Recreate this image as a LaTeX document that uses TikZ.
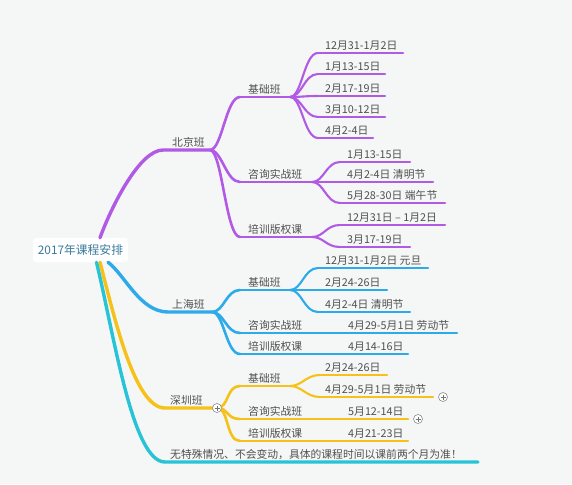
\documentclass[tikz,border=0pt]{standalone}
\usepackage{fontspec}
\setmainfont{Noto Sans CJK SC}
\definecolor{bg}{HTML}{F5F6F6}
\definecolor{txt}{HTML}{505050}
\definecolor{roottxt}{HTML}{3A7A9C}
\definecolor{cpur}{HTML}{B05AE6}
\definecolor{cblu}{HTML}{2DAAEA}
\definecolor{cyel}{HTML}{F6C118}
\definecolor{ccya}{HTML}{27C3D6}
\newcommand{\mmtopic}[6]{% name, xs, xe, y, xtext, text
  \coordinate (#1-s) at (#2,#4);
  \coordinate (#1-e) at (#3,#4);
  \node[lbl] (#1) at (#5,#4-7.5) {#6};
}
\newcommand{\mmlink}[4]{% curve style, line style, parent, child
  \draw[#1] (#3-e) .. controls +(12,0) and +(-14,0) .. (#4-s);
  \draw[#2] (#4-s) -- (#4-e);
}
\begin{document}
\begin{tikzpicture}[x=1pt,y=-1pt,
  lbl/.style={font=\fontsize{10.8}{12}\selectfont, text=txt, inner sep=0pt, anchor=west},
  rootbox/.style={fill=white, rounded corners=3pt, minimum width=95pt, minimum height=24pt, inner sep=0pt,
    text=roottxt, font=\fontsize{11.8}{13}\selectfont},
  mainw/.style={line width=3.4pt, line cap=round},
  subw/.style={line width=2.6pt, line cap=round},
  leafw/.style={line width=2.1pt, line cap=round},
  mmPm/.style={mainw, draw=cpur}, mmPs/.style={subw, draw=cpur}, mmPl/.style={leafw, draw=cpur},
  mmBm/.style={mainw, draw=cblu}, mmBs/.style={subw, draw=cblu}, mmBl/.style={leafw, draw=cblu},
  mmYm/.style={mainw, draw=cyel}, mmYs/.style={subw, draw=cyel}, mmYl/.style={leafw, draw=cyel},
  mmCm/.style={mainw, draw=ccya},
  plusicon/.style={circle, draw=black!45, fill=white, line width=0.6pt, minimum size=9pt, inner sep=0pt,
    path picture={\draw[black!55, line width=0.6pt] ([xshift=-2.5pt]path picture bounding box.center) -- ([xshift=2.5pt]path picture bounding box.center)
      ([yshift=-2.5pt]path picture bounding box.center) -- ([yshift=2.5pt]path picture bounding box.center);}}
]
\useasboundingbox (0,0) rectangle (572,484);
\fill[bg] (0,0) rectangle (572,484);

% root
\node[rootbox] (root) at (80.5,250) {2017年课程安排};

% ---------- topics ----------
\mmtopic{bj}{163}{210}{150}{172}{北京班}
\mmtopic{bj1}{240}{290}{97}{248}{基础班}
\mmtopic{bj1a}{318}{403}{53}{325}{12月31-1月2日}
\mmtopic{bj1b}{318}{385}{74}{325}{1月13-15日}
\mmtopic{bj1c}{318}{385}{96}{325}{2月17-19日}
\mmtopic{bj1d}{318}{385}{117}{325}{3月10-12日}
\mmtopic{bj1e}{318}{373}{138}{325}{4月2-4日}
\mmtopic{bj2}{240}{312}{182}{248}{咨询实战班}
\mmtopic{bj2a}{340}{410}{162}{347}{1月13-15日}
\mmtopic{bj2b}{340}{433}{182}{347}{4月2-4日 清明节}
\mmtopic{bj2c}{340}{445}{203}{347}{5月28-30日 端午节}
\mmtopic{bj3}{240}{312}{237}{248}{培训版权课}
\mmtopic{bj3a}{340}{445}{225}{347}{12月31日 – 1月2日}
\mmtopic{bj3b}{340}{410}{247}{347}{3月17-19日}

\mmtopic{sh}{168}{212}{312}{172}{上海班}
\mmtopic{sh1}{240}{290}{290}{248}{基础班}
\mmtopic{sh1a}{318}{428}{268}{325}{12月31-1月2日 元旦}
\mmtopic{sh1b}{318}{387}{290}{325}{2月24-26日}
\mmtopic{sh1c}{318}{410}{312}{325}{4月2-4日 清明节}
\mmtopic{sh2}{240}{315}{333}{248}{咨询实战班}
\mmtopic{sh2a}{315}{457}{333}{348}{4月29-5月1日 劳动节}
\mmtopic{sh3}{240}{315}{354}{248}{培训版权课}
\mmtopic{sh3a}{315}{408}{354}{348}{4月14-16日}

\mmtopic{sz}{165}{217}{408}{170}{深圳班}
\mmtopic{sz1}{240}{290}{386}{248}{基础班}
\mmtopic{sz1a}{320}{387}{375}{325}{2月24-26日}
\mmtopic{sz1b}{320}{433}{397}{325}{4月29-5月1日 劳动节}
\mmtopic{sz2}{240}{315}{419}{248}{咨询实战班}
\mmtopic{sz2a}{315}{408}{419}{348}{5月12-14日}
\mmtopic{sz3}{240}{315}{441}{248}{培训版权课}
\mmtopic{sz3a}{315}{408}{441}{348}{4月21-23日}

\mmtopic{nt}{165}{478}{462}{170}{无特殊情况、不会变动，具体的课程时间以课前两个月为准！}

% ---------- main branches ----------
\draw[mmPm] ([xshift=19.5pt]root.north) .. controls (112,205) and (140,150) .. (bj-s) -- (bj-e);
\draw[mmBm] ([xshift=27.5pt]root.south) .. controls (125,275) and (140,312) .. (sh-s) -- (sh-e);
\draw[mmYm] ([xshift=19.5pt]root.south) .. controls (115,320) and (135,408) .. (sz-s) -- (sz-e);
\draw[mmCm] ([xshift=16pt]root.south) .. controls (115,340) and (133,462) .. (nt-s) -- (nt-e);

% ---------- Beijing ----------
\mmlink{mmPs}{mmPs}{bj}{bj1}
\mmlink{mmPs}{mmPs}{bj}{bj2}
\mmlink{mmPs}{mmPs}{bj}{bj3}
\mmlink{mmPl}{mmPl}{bj1}{bj1a}
\mmlink{mmPl}{mmPl}{bj1}{bj1b}
\mmlink{mmPl}{mmPl}{bj1}{bj1c}
\mmlink{mmPl}{mmPl}{bj1}{bj1d}
\mmlink{mmPl}{mmPl}{bj1}{bj1e}
\mmlink{mmPl}{mmPl}{bj2}{bj2a}
\mmlink{mmPl}{mmPl}{bj2}{bj2b}
\mmlink{mmPl}{mmPl}{bj2}{bj2c}
\mmlink{mmPl}{mmPl}{bj3}{bj3a}
\mmlink{mmPl}{mmPl}{bj3}{bj3b}

% ---------- Shanghai ----------
\mmlink{mmBs}{mmBs}{sh}{sh1}
\mmlink{mmBs}{mmBs}{sh}{sh2}
\mmlink{mmBs}{mmBs}{sh}{sh3}
\mmlink{mmBl}{mmBl}{sh1}{sh1a}
\mmlink{mmBl}{mmBl}{sh1}{sh1b}
\mmlink{mmBl}{mmBl}{sh1}{sh1c}
\draw[mmBl] (sh2-e) -- (sh2a-s) -- (sh2a-e);
\draw[mmBl] (sh3-e) -- (sh3a-s) -- (sh3a-e);

% ---------- Shenzhen ----------
\mmlink{mmYs}{mmYs}{sz}{sz1}
\mmlink{mmYs}{mmYs}{sz}{sz2}
\mmlink{mmYs}{mmYs}{sz}{sz3}
\mmlink{mmYl}{mmYl}{sz1}{sz1a}
\mmlink{mmYl}{mmYl}{sz1}{sz1b}
\draw[mmYl] (sz2-e) -- (sz2a-s) -- (sz2a-e);
\draw[mmYl] (sz3-e) -- (sz3a-s) -- (sz3a-e);

\node[plusicon] (szp) at (sz-e) {};
\node[plusicon] (sz1bp) at ([xshift=10pt]sz1b-e) {};
\node[plusicon] (sz2ap) at ([xshift=10pt]sz2a-e) {};
\end{tikzpicture}
\end{document}
